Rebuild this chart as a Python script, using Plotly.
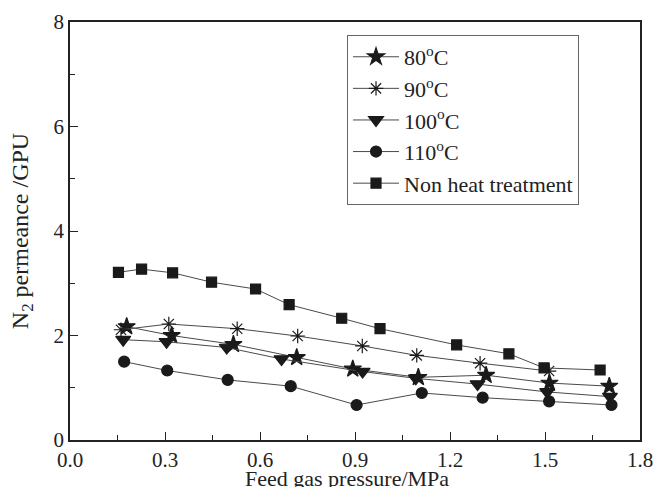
import plotly.graph_objects as go

# Data
x_80 = [0.179, 0.321, 0.516, 0.716, 0.893, 1.100, 1.314, 1.514, 1.703]
y_80 = [2.17, 2.00, 1.83, 1.58, 1.36, 1.20, 1.24, 1.09, 1.03]

x_90 = [0.161, 0.312, 0.528, 0.719, 0.923, 1.095, 1.295, 1.513]
y_90 = [2.11, 2.22, 2.13, 1.99, 1.80, 1.62, 1.47, 1.32]

x_100 = [0.168, 0.305, 0.495, 0.668, 0.924, 1.092, 1.287, 1.507, 1.705]
y_100 = [1.92, 1.88, 1.77, 1.55, 1.31, 1.18, 1.07, 0.92, 0.83]

x_110 = [0.171, 0.307, 0.498, 0.697, 0.905, 1.111, 1.303, 1.513, 1.710]
y_110 = [1.50, 1.33, 1.15, 1.03, 0.67, 0.90, 0.81, 0.74, 0.67]

x_non = [0.153, 0.226, 0.324, 0.447, 0.586, 0.692, 0.858, 0.979, 1.221, 1.386, 1.497, 1.674]
y_non = [3.21, 3.27, 3.20, 3.02, 2.89, 2.59, 2.33, 2.13, 1.82, 1.65, 1.38, 1.34]

names = ["80<sup>o</sup>C", "90<sup>o</sup>C", "100<sup>o</sup>C", "110<sup>o</sup>C", "Non heat treatment"]
xs = [x_80, x_90, x_100, x_110, x_non]
ys = [y_80, y_90, y_100, y_110, y_non]
symbols = ["star", "asterisk-open", "triangle-down", "circle", "square"]
sizes = [13, 12, 13, 11, 10]

x_ticks = [0.0, 0.3, 0.6, 0.9, 1.2, 1.5, 1.8]
y_ticks = [0, 2, 4, 6, 8]

x_title = "Feed gas pressure/MPa"
y_title = "N<sub>2</sub> permeance /GPU"

FONT = "Liberation Serif, Times New Roman, serif"
INK = "#222222"

fig = go.Figure()
for n, x, y, s, sz in zip(names, xs, ys, symbols, sizes):
    fig.add_trace(go.Scatter(
        x=x, y=y, name=n, mode="lines+markers",
        line=dict(color="#4a4a4a", width=1),
        marker=dict(symbol=s, size=sz, color="#1a1a1a",
                    line=dict(color="#1a1a1a", width=1.2)),
    ))

fig.update_layout(
    width=654, height=487,
    margin=dict(l=70, r=14, t=22, b=47),
    paper_bgcolor="white", plot_bgcolor="white",
    font=dict(family=FONT, size=21, color=INK),
    showlegend=True,
    legend=dict(
        x=0.486, y=0.969, xanchor="left", yanchor="top",
        bordercolor="#666666", borderwidth=1, bgcolor="white",
        font=dict(family=FONT, size=22, color=INK),
        tracegroupgap=0, itemwidth=46,
    ),
    annotations=[dict(
        text=x_title, xref="paper", yref="paper", x=0.486, y=0,
        xanchor="center", yanchor="top", yshift=-24, showarrow=False,
        font=dict(family=FONT, size=22, color=INK),
    )],
)

fig.update_xaxes(
    range=[0, 1.8], tickvals=x_ticks, ticktext=[f"{v:.1f}" for v in x_ticks],
    ticks="inside", ticklen=8, tickwidth=1.2, tickcolor=INK,
    minor=dict(dtick=0.15, ticks="inside", ticklen=5, tickwidth=1.2, tickcolor=INK),
    showline=True, linecolor=INK, linewidth=1.5, mirror=True,
    showgrid=False, zeroline=False, automargin=False,
    tickfont=dict(size=21),
)
fig.update_yaxes(
    range=[0, 8], tickvals=y_ticks,
    ticks="inside", ticklen=8, tickwidth=1.2, tickcolor=INK,
    minor=dict(dtick=1, ticks="inside", ticklen=5, tickwidth=1.2, tickcolor=INK),
    showline=True, linecolor=INK, linewidth=1.5, mirror=True,
    showgrid=False, zeroline=False, automargin=False,
    title=dict(text=y_title, font=dict(size=24), standoff=18),
    tickfont=dict(size=21),
)

fig.write_html("out.html", config={"displayModeBar": False},
               post_script="document.body.style.margin='0';document.body.style.overflow='hidden';")
